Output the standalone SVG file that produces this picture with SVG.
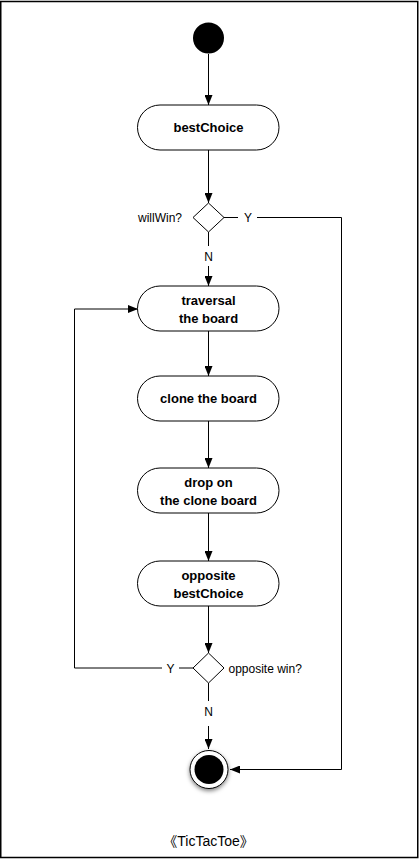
<svg xmlns="http://www.w3.org/2000/svg" width="419" height="859" viewBox="0 0 419 859">
<style>
.frame{fill:#fff;stroke:#000;stroke-width:1.5}
.act rect{fill:#fff;stroke:#000;stroke-width:1}
.act text{font-family:"Liberation Sans",Arial,sans-serif;font-weight:bold;font-size:13px;text-anchor:middle;fill:#000}
.dec polygon{fill:#fff;stroke:#000;stroke-width:1}
.lbl{font-family:"Liberation Sans",Arial,sans-serif;font-size:12px;fill:#000}
.edge{fill:none;stroke:#000;stroke-width:1}
</style>
<defs>
<marker id="arr" viewBox="0 0 10 8" refX="10" refY="4" markerWidth="10" markerHeight="8" markerUnits="userSpaceOnUse" orient="auto">
<path d="M0,0 L10,4 L0,8 z" fill="#000"/>
</marker>
<filter id="sh" x="-50%" y="-50%" width="200%" height="200%">
<feDropShadow dx="0" dy="2" stdDeviation="2" flood-color="#000" flood-opacity="0.5"/>
</filter>
</defs>
<rect class="frame" x="0.75" y="1.5" width="417" height="856"/>
<g id="connectors">
<path class="edge" d="M208.5,54 V105" marker-end="url(#arr)"/>
<path class="edge" d="M208.5,150 V203" marker-end="url(#arr)"/>
<path class="edge" d="M208.5,232 V246"/>
<path class="edge" d="M208.5,266 V286" marker-end="url(#arr)"/>
<path class="edge" d="M224,217.5 H238"/>
<path class="edge" d="M257,217.5 H341.5 V769.5 H230" marker-end="url(#arr)"/>
<path class="edge" d="M208.5,331 V376" marker-end="url(#arr)"/>
<path class="edge" d="M208.5,421 V468" marker-end="url(#arr)"/>
<path class="edge" d="M208.5,513 V561" marker-end="url(#arr)"/>
<path class="edge" d="M208.5,606 V653" marker-end="url(#arr)"/>
<path class="edge" d="M193,668 H179"/>
<path class="edge" d="M162,668 H74.5 V309 H138" marker-end="url(#arr)"/>
<path class="edge" d="M208.5,683 V701"/>
<path class="edge" d="M208.5,726 V749" marker-end="url(#arr)"/>
<text class="lbl" x="248" y="222" text-anchor="middle">Y</text>
<text class="lbl" x="208.5" y="261" text-anchor="middle">N</text>
<text class="lbl" x="170.5" y="672.5" text-anchor="middle">Y</text>
<text class="lbl" x="208.5" y="716" text-anchor="middle">N</text>
</g>
<g id="start"><circle cx="208.5" cy="38" r="15.5" fill="#000"/></g>
<g id="bestChoice" class="act"><rect x="137.5" y="105" width="141.5" height="45" rx="22.5"/><text x="208.5" y="132">bestChoice</text></g>
<g id="willWin" class="dec"><polygon points="208.5,203 224,217.5 208.5,232 193,217.5"/><text class="lbl" x="182" y="222" text-anchor="end">willWin?</text></g>
<g id="traversal" class="act"><rect x="137.5" y="286" width="141.5" height="45" rx="22.5"/><text x="208.5" y="305">traversal</text><text x="208.5" y="322.5">the board</text></g>
<g id="clone" class="act"><rect x="137.5" y="376" width="141.5" height="45" rx="22.5"/><text x="208.5" y="403">clone the board</text></g>
<g id="drop" class="act"><rect x="137.5" y="468" width="141.5" height="45" rx="22.5"/><text x="208.5" y="487">drop on</text><text x="208.5" y="504.5">the clone board</text></g>
<g id="opposite" class="act"><rect x="137.5" y="561" width="141.5" height="45" rx="22.5"/><text x="208.5" y="580">opposite</text><text x="208.5" y="597.5">bestChoice</text></g>
<g id="oppositeWin" class="dec"><polygon points="208.5,653 224,668 208.5,683 193,668"/><text class="lbl" x="228.5" y="672.5">opposite win?</text></g>
<g id="end"><circle cx="209" cy="769.5" r="19" fill="#fff" stroke="#000" stroke-width="1" filter="url(#sh)"/><circle cx="209" cy="769.5" r="14.5" fill="#000"/></g>
<text id="title" x="208.5" y="846" text-anchor="middle" font-family="'Liberation Sans','Noto Sans CJK SC',sans-serif" font-size="14">《TicTacToe》</text>
</svg>
